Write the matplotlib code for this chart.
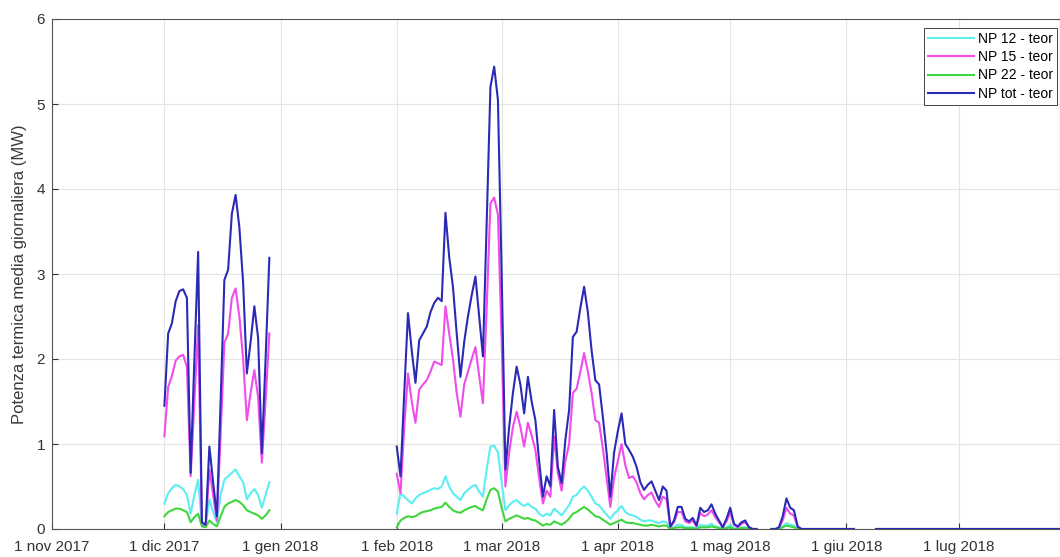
import numpy as np
import pandas as pd
import matplotlib
matplotlib.use("Agg")
from matplotlib import pyplot as plt
import matplotlib.dates as mdates

plt.rcParams['font.family'] = ['Liberation Sans', 'DejaVu Sans']

# --- dati giornalieri (MW) ---
# tratto 1: 1-29 dic 2017
d1 = pd.date_range('2017-12-01', '2017-12-29', freq='D')
np12_1 = [0.30, 0.42, 0.48, 0.52, 0.50, 0.47, 0.40, 0.18, 0.40, 0.58, 0.05, 0.04, 0.35, 0.20, 0.08,
          0.40, 0.58, 0.62, 0.66, 0.70, 0.62, 0.55, 0.35, 0.42, 0.47, 0.40, 0.25, 0.40, 0.55]
np15_1 = [1.09, 1.67, 1.80, 1.98, 2.03, 2.05, 1.91, 0.62, 1.50, 2.40, 0.05, 0.03, 0.70, 0.40, 0.10,
          1.10, 2.19, 2.30, 2.72, 2.83, 2.50, 2.00, 1.28, 1.60, 1.87, 1.55, 0.78, 1.50, 2.30]
np22_1 = [0.15, 0.20, 0.22, 0.24, 0.24, 0.22, 0.20, 0.08, 0.14, 0.18, 0.03, 0.02, 0.10, 0.06, 0.03,
          0.15, 0.26, 0.30, 0.32, 0.34, 0.32, 0.28, 0.22, 0.20, 0.18, 0.16, 0.12, 0.16, 0.22]
tot_1 = [1.45, 2.30, 2.42, 2.68, 2.80, 2.82, 2.72, 0.66, 2.00, 3.26, 0.08, 0.05, 0.97, 0.55, 0.15,
         1.50, 2.93, 3.05, 3.71, 3.93, 3.55, 2.90, 1.83, 2.20, 2.62, 2.25, 0.89, 2.00, 3.19]

# tratto 2: 1 feb - 8 mag 2018
d2 = pd.date_range('2018-02-01', '2018-05-08', freq='D')
np12_2 = [0.18, 0.42, 0.38, 0.34, 0.30, 0.36, 0.40, 0.42, 0.44, 0.46, 0.48, 0.47, 0.50, 0.62,
          0.50, 0.42, 0.38, 0.34, 0.42, 0.46, 0.50, 0.52, 0.44, 0.38, 0.70, 0.97, 0.98, 0.90,
          # mar
          0.55, 0.22, 0.28, 0.32, 0.34, 0.30, 0.27, 0.30, 0.26, 0.24, 0.18, 0.15, 0.18, 0.16,
          0.24, 0.20, 0.16, 0.22, 0.28, 0.38, 0.40, 0.46, 0.50, 0.45, 0.38, 0.30, 0.28, 0.22,
          0.17, 0.12, 0.18,
          # apr
          0.22, 0.27, 0.20, 0.17, 0.16, 0.14, 0.11, 0.09, 0.10, 0.10, 0.08, 0.07, 0.09, 0.08,
          0.01, 0.02, 0.05, 0.05, 0.02, 0.02, 0.02, 0.01, 0.05, 0.04, 0.04, 0.06, 0.03, 0.02,
          0.00, 0.02,
          # mag
          0.05, 0.01, 0.00, 0.02, 0.02, 0.00, 0.00, 0.00]
np15_2 = [0.65, 0.42, 1.20, 1.83, 1.50, 1.25, 1.64, 1.70, 1.75, 1.85, 1.97, 1.95, 1.93, 2.62,
          2.30, 2.00, 1.60, 1.32, 1.70, 1.85, 2.00, 2.14, 1.80, 1.48, 2.60, 3.83, 3.90, 3.70,
          2.20, 0.50, 0.90, 1.20, 1.38, 1.20, 0.97, 1.25, 1.10, 0.93, 0.60, 0.30, 0.45, 0.38,
          1.09, 0.66, 0.45, 0.80, 1.00, 1.60, 1.65, 1.85, 2.07, 1.85, 1.60, 1.28, 1.25, 0.95,
          0.60, 0.26, 0.60,
          0.80, 1.00, 0.75, 0.60, 0.62, 0.55, 0.42, 0.35, 0.40, 0.43, 0.33, 0.26, 0.38, 0.35,
          0.02, 0.08, 0.20, 0.20, 0.09, 0.07, 0.10, 0.03, 0.19, 0.15, 0.17, 0.22, 0.14, 0.08,
          0.02, 0.09,
          0.19, 0.05, 0.02, 0.06, 0.08, 0.02, 0.00, 0.00]
np22_2 = [0.02, 0.10, 0.13, 0.15, 0.14, 0.15, 0.18, 0.20, 0.21, 0.22, 0.24, 0.25, 0.26, 0.31,
          0.26, 0.22, 0.20, 0.19, 0.22, 0.24, 0.26, 0.27, 0.24, 0.22, 0.35, 0.46, 0.48, 0.44,
          0.25, 0.09, 0.12, 0.14, 0.16, 0.14, 0.12, 0.13, 0.11, 0.10, 0.07, 0.04, 0.06, 0.05,
          0.09, 0.07, 0.05, 0.08, 0.12, 0.18, 0.20, 0.23, 0.26, 0.23, 0.19, 0.15, 0.14, 0.11,
          0.08, 0.05, 0.07,
          0.09, 0.11, 0.08, 0.07, 0.07, 0.06, 0.05, 0.04, 0.04, 0.05, 0.04, 0.03, 0.04, 0.04,
          0.00, 0.01, 0.02, 0.02, 0.01, 0.01, 0.01, 0.00, 0.02, 0.02, 0.02, 0.03, 0.02, 0.01,
          0.00, 0.01,
          0.02, 0.00, 0.00, 0.01, 0.01, 0.00, 0.00, 0.00]
tot_2 = [0.97, 0.62, 1.60, 2.54, 2.10, 1.72, 2.22, 2.30, 2.38, 2.55, 2.66, 2.72, 2.68, 3.72,
         3.20, 2.85, 2.30, 1.79, 2.20, 2.50, 2.75, 2.97, 2.50, 2.03, 3.60, 5.20, 5.44, 5.05,
         3.00, 0.70, 1.20, 1.60, 1.91, 1.70, 1.36, 1.79, 1.50, 1.28, 0.80, 0.38, 0.62, 0.50,
         1.40, 0.73, 0.54, 1.05, 1.40, 2.26, 2.32, 2.60, 2.85, 2.55, 2.10, 1.75, 1.70, 1.32,
         0.90, 0.38, 0.90,
         1.15, 1.36, 1.00, 0.93, 0.85, 0.73, 0.55, 0.46, 0.52, 0.56, 0.45, 0.34, 0.50, 0.45,
         0.03, 0.10, 0.26, 0.26, 0.12, 0.09, 0.13, 0.04, 0.25, 0.20, 0.22, 0.29, 0.18, 0.10,
         0.02, 0.12,
         0.25, 0.06, 0.03, 0.08, 0.10, 0.02, 0.00, 0.00]

# tratto 3: 12 mag - 3 giu 2018
d3 = pd.date_range('2018-05-12', '2018-06-03', freq='D')
np12_3 = [0, 0, 0, 0.03, 0.07, 0.05, 0.04, 0, 0, 0, 0, 0, 0, 0, 0, 0, 0, 0, 0, 0, 0, 0, 0]
np15_3 = [0, 0, 0.01, 0.10, 0.25, 0.18, 0.16, 0.02, 0, 0, 0, 0, 0, 0, 0, 0, 0, 0, 0, 0, 0, 0, 0]
np22_3 = [0, 0, 0, 0.02, 0.04, 0.03, 0.02, 0, 0, 0, 0, 0, 0, 0, 0, 0, 0, 0, 0, 0, 0, 0, 0]
tot_3 = [0, 0, 0.02, 0.15, 0.36, 0.25, 0.22, 0.03, 0, 0, 0, 0, 0, 0, 0, 0, 0, 0, 0, 0, 0, 0, 0]

# tratto 4: 9 giu - 31 lug 2018 (impianto fermo)
d4 = pd.date_range('2018-06-09', '2018-07-31', freq='D')
zero_4 = [0.0] * len(d4)

dates = [d1, d2, d3, d4]
series = {
    'NP 12 - teor': [np12_1, np12_2, np12_3, zero_4],
    'NP 15 - teor': [np15_1, np15_2, np15_3, zero_4],
    'NP 22 - teor': [np22_1, np22_2, np22_3, zero_4],
    'NP tot - teor': [tot_1, tot_2, tot_3, zero_4],
}
colors = ['#5ceef0', '#f04cec', '#40d640', '#2a2ab6']

fig = plt.figure(figsize=(10.6, 5.57), dpi=100)
ax = fig.add_axes([52 / 1060, 28 / 557, 1 - 52 / 1060, 510 / 557])

for (name, segs), c in zip(series.items(), colors):
    for k, (dd, vv) in enumerate(zip(dates, segs)):
        ax.plot(dd, vv, color=c, lw=1.5, label=name if k == 0 else None)

ax.set_xlim(pd.Timestamp('2017-11-01'), pd.Timestamp('2018-07-28'))
ax.set_ylim(0, 6)
ax.set_yticks(range(7))

mesi = ['gen', 'feb', 'mar', 'apr', 'mag', 'giu', 'lug', 'ago', 'set', 'ott', 'nov', 'dic']
ax.xaxis.set_major_locator(mdates.MonthLocator())
ax.xaxis.set_major_formatter(plt.FuncFormatter(
    lambda x, pos: '1 %s %d' % (mesi[mdates.num2date(x).month - 1], mdates.num2date(x).year)))

ax.grid(True, color='#e4e4e4', lw=0.8)
ax.set_axisbelow(True)
for s in ax.spines.values():
    s.set_color('#555555')
    s.set_linewidth(0.8)
ax.tick_params(direction='in', length=4, colors='#333333', labelsize=11)
ax.tick_params(axis='x', pad=8)
ax.tick_params(axis='y', pad=5)
ax.set_ylabel('Potenza termica media giornaliera (MW)', fontsize=12, color='#3a3a3a')
ax.yaxis.set_label_coords(-25 / 1008, 0.5)

leg = ax.legend(loc='upper right', bbox_to_anchor=(1057 / 1060, 1 - 28 / 557),
                bbox_transform=fig.transFigure, fontsize=10, handlelength=3.3,
                fancybox=False, framealpha=1, edgecolor='#444444', borderpad=0.3,
                labelspacing=0.3, handletextpad=0.25, borderaxespad=0)
leg.get_frame().set_linewidth(0.7)

fig.savefig('out.png', dpi=100)
